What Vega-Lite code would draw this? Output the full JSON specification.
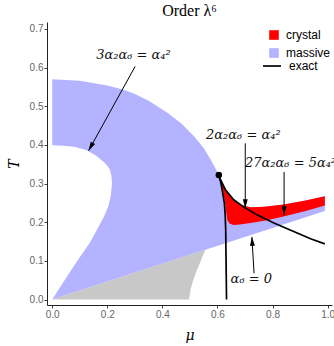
{
  "$schema": "https://vega.github.io/schema/vega-lite/v6.json",
  "width": 285,
  "height": 283,
  "autosize": {"type": "none"},
  "padding": {"left": 47, "top": 22, "right": 2, "bottom": 41},
  "background": "white",
  "title": {"text": "Order λ⁶", "font": "Liberation Serif", "fontSize": 16, "fontWeight": "normal", "color": "black", "anchor": "middle", "offset": 3},
  "config": {
    "view": {"stroke": null},
    "axis": {
      "grid": false,
      "domainColor": "#222",
      "tickColor": "#444",
      "tickSize": 3,
      "labelColor": "#666",
      "labelFont": "Liberation Sans",
      "labelFontSize": 10,
      "labelPadding": 1,
      "titleFont": "DejaVu Serif",
      "titleFontStyle": "italic",
      "titleFontWeight": "normal",
      "titleFontSize": 14,
      "titleColor": "black"
    }
  },
  "datasets": {
    "massive": [
      {"i": 0, "mu": 0, "T": 0.570, "region": "massive"},
      {"i": 1, "mu": 0.1, "T": 0.566, "region": "massive"},
      {"i": 2, "mu": 0.2, "T": 0.554, "region": "massive"},
      {"i": 3, "mu": 0.26, "T": 0.543, "region": "massive"},
      {"i": 4, "mu": 0.3, "T": 0.532, "region": "massive"},
      {"i": 5, "mu": 0.35, "T": 0.514, "region": "massive"},
      {"i": 6, "mu": 0.417, "T": 0.484, "region": "massive"},
      {"i": 7, "mu": 0.47, "T": 0.455, "region": "massive"},
      {"i": 8, "mu": 0.514, "T": 0.423, "region": "massive"},
      {"i": 9, "mu": 0.55, "T": 0.392, "region": "massive"},
      {"i": 10, "mu": 0.575, "T": 0.362, "region": "massive"},
      {"i": 11, "mu": 0.592, "T": 0.34, "region": "massive"},
      {"i": 12, "mu": 0.605, "T": 0.322, "region": "massive"},
      {"i": 13, "mu": 0.615, "T": 0.30, "region": "massive"},
      {"i": 14, "mu": 0.63, "T": 0.28, "region": "massive"},
      {"i": 15, "mu": 0.647, "T": 0.266, "region": "massive"},
      {"i": 16, "mu": 0.665, "T": 0.254, "region": "massive"},
      {"i": 17, "mu": 0.69, "T": 0.244, "region": "massive"},
      {"i": 18, "mu": 0.72, "T": 0.239, "region": "massive"},
      {"i": 19, "mu": 0.77, "T": 0.240, "region": "massive"},
      {"i": 20, "mu": 0.84, "T": 0.246, "region": "massive"},
      {"i": 21, "mu": 0.92, "T": 0.256, "region": "massive"},
      {"i": 22, "mu": 0.99, "T": 0.267, "region": "massive"},
      {"i": 23, "mu": 0.99, "T": 0.229, "region": "massive"},
      {"i": 24, "mu": 0, "T": 0, "region": "massive"},
      {"i": 25, "mu": 0.053, "T": 0.059, "region": "massive"},
      {"i": 26, "mu": 0.102, "T": 0.111, "region": "massive"},
      {"i": 27, "mu": 0.135, "T": 0.145, "region": "massive"},
      {"i": 28, "mu": 0.162, "T": 0.18, "region": "massive"},
      {"i": 29, "mu": 0.185, "T": 0.21, "region": "massive"},
      {"i": 30, "mu": 0.204, "T": 0.241, "region": "massive"},
      {"i": 31, "mu": 0.213, "T": 0.27, "region": "massive"},
      {"i": 32, "mu": 0.217, "T": 0.30, "region": "massive"},
      {"i": 33, "mu": 0.215, "T": 0.32, "region": "massive"},
      {"i": 34, "mu": 0.209, "T": 0.337, "region": "massive"},
      {"i": 35, "mu": 0.198, "T": 0.348, "region": "massive"},
      {"i": 36, "mu": 0.184, "T": 0.358, "region": "massive"},
      {"i": 37, "mu": 0.16, "T": 0.372, "region": "massive"},
      {"i": 38, "mu": 0.126, "T": 0.386, "region": "massive"},
      {"i": 39, "mu": 0.08, "T": 0.395, "region": "massive"},
      {"i": 40, "mu": 0.04, "T": 0.398, "region": "massive"},
      {"i": 41, "mu": 0, "T": 0.399, "region": "massive"}
    ],
    "crystal": [
      {"i": 0, "mu": 0.605, "T": 0.322, "region": "crystal"},
      {"i": 1, "mu": 0.611, "T": 0.31, "region": "crystal"},
      {"i": 2, "mu": 0.629, "T": 0.284, "region": "crystal"},
      {"i": 3, "mu": 0.647, "T": 0.266, "region": "crystal"},
      {"i": 4, "mu": 0.665, "T": 0.254, "region": "crystal"},
      {"i": 5, "mu": 0.69, "T": 0.244, "region": "crystal"},
      {"i": 6, "mu": 0.72, "T": 0.239, "region": "crystal"},
      {"i": 7, "mu": 0.77, "T": 0.240, "region": "crystal"},
      {"i": 8, "mu": 0.84, "T": 0.246, "region": "crystal"},
      {"i": 9, "mu": 0.92, "T": 0.256, "region": "crystal"},
      {"i": 10, "mu": 0.99, "T": 0.267, "region": "crystal"},
      {"i": 11, "mu": 0.99, "T": 0.243, "region": "crystal"},
      {"i": 12, "mu": 0.92, "T": 0.229, "region": "crystal"},
      {"i": 13, "mu": 0.84, "T": 0.215, "region": "crystal"},
      {"i": 14, "mu": 0.78, "T": 0.205, "region": "crystal"},
      {"i": 15, "mu": 0.72, "T": 0.198, "region": "crystal"},
      {"i": 16, "mu": 0.68, "T": 0.194, "region": "crystal"},
      {"i": 17, "mu": 0.659, "T": 0.193, "region": "crystal"},
      {"i": 18, "mu": 0.645, "T": 0.196, "region": "crystal"},
      {"i": 19, "mu": 0.636, "T": 0.205, "region": "crystal"},
      {"i": 20, "mu": 0.632, "T": 0.225, "region": "crystal"},
      {"i": 21, "mu": 0.627, "T": 0.255, "region": "crystal"},
      {"i": 22, "mu": 0.62, "T": 0.28, "region": "crystal"},
      {"i": 23, "mu": 0.612, "T": 0.305, "region": "crystal"}
    ],
    "hatch": [
      {"i": 0, "mu": 0.0, "T": 0.0},
      {"i": 1, "mu": 0.556, "T": 0.129},
      {"i": 2, "mu": 0.545, "T": 0.11},
      {"i": 3, "mu": 0.526, "T": 0.077},
      {"i": 4, "mu": 0.512, "T": 0.05},
      {"i": 5, "mu": 0.502, "T": 0.025},
      {"i": 6, "mu": 0.497, "T": 0.0}
    ],
    "exact": [
      {"branch": "a", "i": 0, "mu": 0.605, "T": 0.322, "curve": "exact"},
      {"branch": "a", "i": 1, "mu": 0.611, "T": 0.31, "curve": "exact"},
      {"branch": "a", "i": 2, "mu": 0.629, "T": 0.284, "curve": "exact"},
      {"branch": "a", "i": 3, "mu": 0.659, "T": 0.258, "curve": "exact"},
      {"branch": "a", "i": 4, "mu": 0.696, "T": 0.239, "curve": "exact"},
      {"branch": "a", "i": 5, "mu": 0.744, "T": 0.219, "curve": "exact"},
      {"branch": "a", "i": 6, "mu": 0.805, "T": 0.198, "curve": "exact"},
      {"branch": "a", "i": 7, "mu": 0.877, "T": 0.176, "curve": "exact"},
      {"branch": "a", "i": 8, "mu": 0.938, "T": 0.157, "curve": "exact"},
      {"branch": "a", "i": 9, "mu": 0.99, "T": 0.144, "curve": "exact"},
      {"branch": "b", "i": 0, "mu": 0.605, "T": 0.322, "curve": "exact"},
      {"branch": "b", "i": 1, "mu": 0.613, "T": 0.30, "curve": "exact"},
      {"branch": "b", "i": 2, "mu": 0.619, "T": 0.276, "curve": "exact"},
      {"branch": "b", "i": 3, "mu": 0.625, "T": 0.25, "curve": "exact"},
      {"branch": "b", "i": 4, "mu": 0.628, "T": 0.22, "curve": "exact"},
      {"branch": "b", "i": 5, "mu": 0.63, "T": 0.18, "curve": "exact"},
      {"branch": "b", "i": 6, "mu": 0.631, "T": 0.12, "curve": "exact"},
      {"branch": "b", "i": 7, "mu": 0.632, "T": 0.06, "curve": "exact"},
      {"branch": "b", "i": 8, "mu": 0.633, "T": 0.0, "curve": "exact"}
    ],
    "arrows": [
      {"id": 1, "mu": 0.301, "T": 0.603, "mu2": 0.132, "T2": 0.385},
      {"id": 2, "mu": 0.701, "T": 0.404, "mu2": 0.701, "T2": 0.236},
      {"id": 3, "mu": 0.842, "T": 0.330, "mu2": 0.842, "T2": 0.218},
      {"id": 4, "mu": 0.733, "T": 0.068, "mu2": 0.725, "T2": 0.162}
    ],
    "labels": [
      {"mu": 0.295, "T": 0.632, "label": "3α₂α₆ = α₄²"},
      {"mu": 0.694, "T": 0.425, "label": "2α₂α₆ = α₄²"},
      {"mu": 0.723, "T": 0.052, "label": "α₆ = 0"}
    ],
    "labelsLeft": [
      {"mu": 0.70, "T": 0.353, "label": "27α₂α₆ = 5α₄²"}
    ],
    "dot": [
      {"mu": 0.605, "T": 0.322}
    ]
  },
  "encoding": {
    "x": {"field": "mu", "type": "quantitative", "scale": {"domain": [-0.019, 1.016], "nice": false, "zero": false},
      "axis": {"title": "μ", "values": [0, 0.2, 0.4, 0.6, 0.8, 1.0], "format": ".1f", "titlePadding": 9}},
    "y": {"field": "T", "type": "quantitative", "scale": {"domain": [-0.0142, 0.718], "nice": false, "zero": false},
      "axis": {"title": "T", "values": [0, 0.1, 0.2, 0.3, 0.4, 0.5, 0.6, 0.7], "format": ".1f", "titlePadding": 8}}
  },
  "layer": [
    {
      "data": {"name": "massive"},
      "mark": {"type": "line", "strokeWidth": 0},
      "encoding": {
        "order": {"field": "i", "type": "quantitative"},
        "fill": {"field": "region", "type": "nominal",
          "scale": {"domain": ["crystal", "massive"], "range": ["#ff0000", "#b3b3ff"]},
          "legend": {"title": null, "orient": "none", "legendX": 221, "legendY": 7, "symbolType": "square", "symbolSize": 92, "symbolStrokeWidth": 0, "labelFont": "Liberation Sans", "labelFontSize": 12, "labelColor": "black", "rowPadding": 6, "labelOffset": 6}}
      }
    },
    {
      "data": {"name": "hatch"},
      "mark": {"type": "line", "strokeWidth": 0, "fill": "#c8c8c8"},
      "encoding": {"order": {"field": "i", "type": "quantitative"}}
    },
    {
      "data": {"name": "crystal"},
      "mark": {"type": "line", "strokeWidth": 0},
      "encoding": {
        "order": {"field": "i", "type": "quantitative"},
        "fill": {"field": "region", "type": "nominal"}
      }
    },
    {
      "data": {"name": "exact"},
      "mark": {"type": "line", "strokeWidth": 1.7},
      "encoding": {
        "order": {"field": "i", "type": "quantitative"},
        "detail": {"field": "branch"},
        "stroke": {"field": "curve", "type": "nominal",
          "scale": {"domain": ["exact"], "range": ["black"]},
          "legend": {"title": null, "orient": "none", "legendX": 215, "legendY": 34, "symbolType": "stroke", "symbolSize": 324, "symbolStrokeWidth": 1.7, "labelFont": "Liberation Sans", "labelFontSize": 12, "labelColor": "black", "labelOffset": 7}}
      }
    },
    {
      "data": {"name": "arrows"},
      "mark": {"type": "rule", "color": "black", "strokeWidth": 1},
      "encoding": {
        "x2": {"field": "mu2"},
        "y2": {"field": "T2"}
      }
    },
    {
      "data": {"name": "arrows"},
      "transform": [{"filter": "datum.id == 1"}],
      "mark": {"type": "point", "shape": "M0,0 L0.55,2 L-0.55,2 Z", "filled": true, "color": "black", "size": 81, "angle": 209, "strokeWidth": 0, "opacity": 1},
      "encoding": {"x": {"field": "mu2", "type": "quantitative"}, "y": {"field": "T2", "type": "quantitative"}}
    },
    {
      "data": {"name": "arrows"},
      "transform": [{"filter": "datum.id == 2 || datum.id == 3"}],
      "mark": {"type": "point", "shape": "M0,0 L0.55,2 L-0.55,2 Z", "filled": true, "color": "black", "size": 81, "angle": 180, "strokeWidth": 0, "opacity": 1},
      "encoding": {"x": {"field": "mu2", "type": "quantitative"}, "y": {"field": "T2", "type": "quantitative"}}
    },
    {
      "data": {"name": "arrows"},
      "transform": [{"filter": "datum.id == 4"}],
      "mark": {"type": "point", "shape": "M0,0 L0.55,2 L-0.55,2 Z", "filled": true, "color": "black", "size": 81, "angle": 356, "strokeWidth": 0, "opacity": 1},
      "encoding": {"x": {"field": "mu2", "type": "quantitative"}, "y": {"field": "T2", "type": "quantitative"}}
    },
    {
      "data": {"name": "dot"},
      "mark": {"type": "circle", "color": "black", "size": 42, "opacity": 1}
    },
    {
      "data": {"name": "labels"},
      "mark": {"type": "text", "font": "DejaVu Serif", "fontSize": 13, "fontStyle": "italic", "align": "center", "baseline": "middle", "color": "#111"},
      "encoding": {"text": {"field": "label"}}
    },
    {
      "data": {"name": "labelsLeft"},
      "mark": {"type": "text", "font": "DejaVu Serif", "fontSize": 13, "fontStyle": "italic", "align": "left", "baseline": "middle", "color": "#111"},
      "encoding": {"text": {"field": "label"}}
    }
  ]
}
